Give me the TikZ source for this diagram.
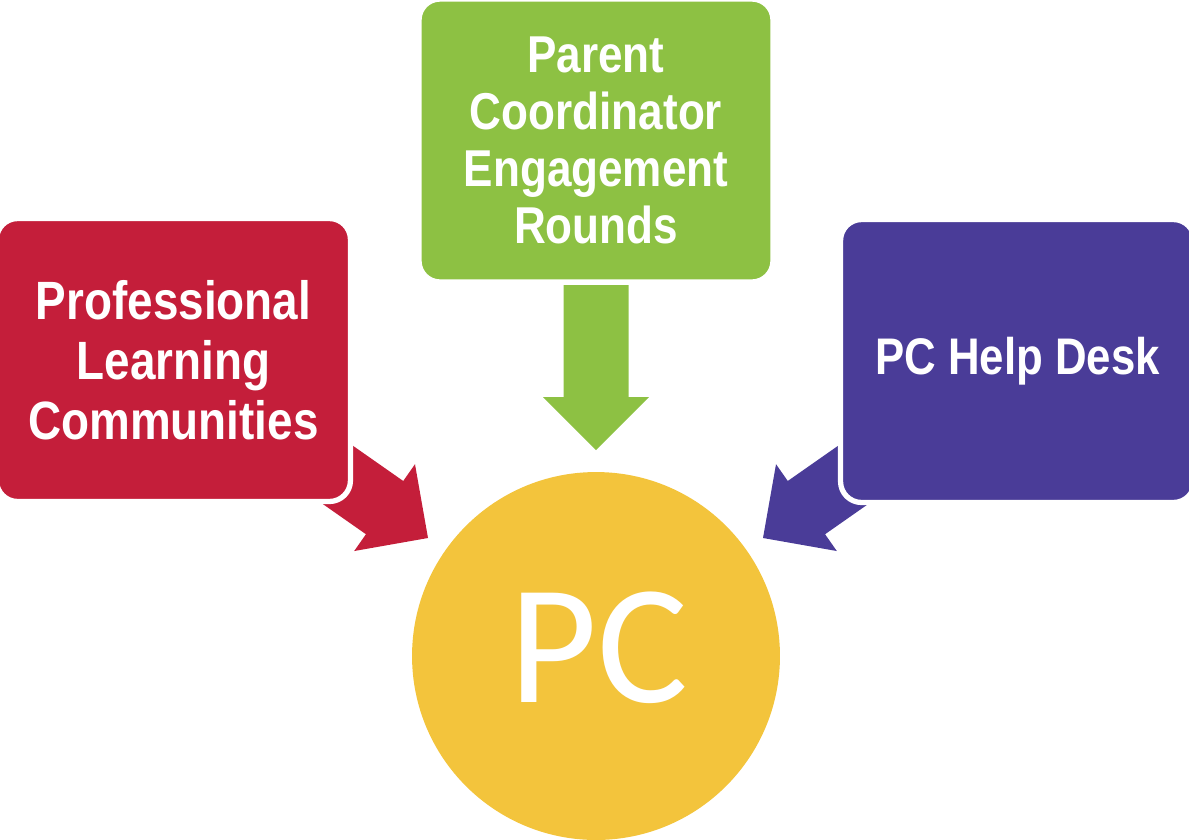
\documentclass[tikz,border=0pt]{standalone}
\usepackage{fontspec}
\newfontfamily\boxfont[FakeStretch=0.85]{Liberation Sans}
\newfontfamily\pcfont{Carlito}
\definecolor{pcred}{RGB}{196,30,58}
\definecolor{pcgreen}{RGB}{141,193,67}
\definecolor{pcpurple}{RGB}{74,60,152}
\definecolor{pcyellow}{RGB}{243,196,60}
\tikzset{
  boxnode/.style={rectangle, rounded corners=0.42cm, draw=white, line width=3pt,
    minimum width=7.08cm, minimum height=5.66cm, text=white, align=center,
    inner sep=0pt, font=\boxfont\bfseries\fontsize{30.7}{34}\selectfont},
  pcnode/.style={circle, fill=pcyellow, minimum size=7.36cm, inner sep=0pt},
  pctext/.style={text=white, inner sep=0pt, font=\pcfont\fontsize{97}{100}\selectfont}
}
\newcommand{\blockarrowpath}{(0,0) -- (-53,53) -- (-53,32.5) -- (-165,32.5) -- (-165,-32.5) -- (-53,-32.5) -- (-53,-53) -- cycle}
\begin{document}
\begin{tikzpicture}[x=0.02cm,y=-0.02cm]
\useasboundingbox (0,0) rectangle (1189,839);
% target circle
\node[pcnode] (pc) at (596,656) {};
\node[pctext] (pclabel) at ([shift={(3,-8)}]pc.center) {PC};
% arrow tips
\coordinate (redtip) at (428,538);
\coordinate (greentip) at (596,450);
\coordinate (purpletip) at (763,538);
% block arrows
\begin{scope}[shift={(redtip)}, rotate=-35]
  \fill[pcred] \blockarrowpath;
\end{scope}
\begin{scope}[shift={(purpletip)}, rotate=-145]
  \fill[pcpurple] \blockarrowpath;
\end{scope}
\begin{scope}[shift={(greentip)}, rotate=-90]
  \fill[pcgreen] \blockarrowpath;
\end{scope}
% boxes
\node[boxnode, fill=pcred] (plc) at (173.5,360) {Professional\\Learning\\Communities};
\node[boxnode, fill=pcgreen, font=\boxfont\bfseries\fontsize{29.5}{32.3}\selectfont] (pcer) at (596,140.5) {Parent\\Coordinator\\Engagement\\Rounds};
\node[boxnode, fill=pcpurple, font=\boxfont\bfseries\fontsize{29.3}{34}\selectfont] (help) at (1017.5,361) {PC Help Desk};
\end{tikzpicture}
\end{document}
